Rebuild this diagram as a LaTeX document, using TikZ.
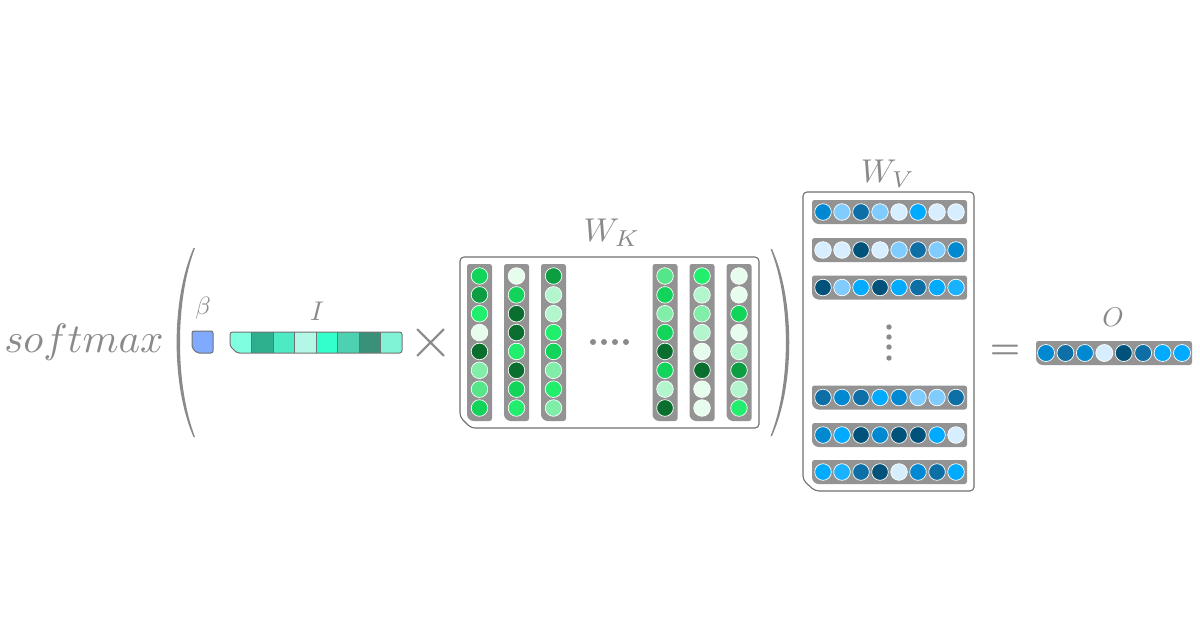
\documentclass[tikz,border=0pt]{standalone}
\usepackage{amsmath}
\usepackage{amssymb}
\usepackage{tikz}

\definecolor{txtgray}{HTML}{8A8A8A}
\definecolor{frmgray}{HTML}{707070}
\definecolor{bargray}{HTML}{939393}
\definecolor{betablue}{HTML}{80AAFF}
\definecolor{iA}{HTML}{80FFE0}
\definecolor{iB}{HTML}{2EB08F}
\definecolor{iC}{HTML}{4DEBC4}
\definecolor{iD}{HTML}{B3F7E6}
\definecolor{iE}{HTML}{33FFCC}
\definecolor{iF}{HTML}{4DD1B0}
\definecolor{iG}{HTML}{3A917A}
\definecolor{iH}{HTML}{80F2D5}
\definecolor{gA}{HTML}{E6FCEC}
\definecolor{gB}{HTML}{B3F5CC}
\definecolor{gC}{HTML}{80EDA8}
\definecolor{gD}{HTML}{55E68A}
\definecolor{gE}{HTML}{22EE6E}
\definecolor{gF}{HTML}{12D45A}
\definecolor{gG}{HTML}{0E9E42}
\definecolor{gH}{HTML}{0A6E2E}
\definecolor{bA}{HTML}{D6EEFF}
\definecolor{bB}{HTML}{80CCFF}
\definecolor{bC}{HTML}{00AAFF}
\definecolor{bCC}{HTML}{1AB2FF}
\definecolor{bD}{HTML}{0088D1}
\definecolor{bE}{HTML}{0D6FA6}
\definecolor{bF}{HTML}{00527A}

\begin{document}
\begin{tikzpicture}[x=1pt,y=1pt,
    lbl/.style={text=txtgray},
    frame/.style={draw=frmgray, line width=1.1pt, fill=white, rounded corners=4pt},
    bar/.style={fill=bargray, rounded corners=2.5pt},
    dot/.style={draw=white, line width=0.7pt}]
    \tikzstyle{every node}+=[inner sep=0pt]
    \useasboundingbox (0,0) rectangle (1200,-630);
    % softmax and left bracket
    \node[lbl, anchor=base, scale=4.1] (softmax) at (84,-352) {$softmax$};
    \fill[txtgray] (193.5,-248) .. controls (171,-300) and (171,-385) .. (193.5,-437) -- (195,-437) .. controls (175,-385) and (175,-300) .. (195,-248) -- cycle;
    % beta
    \filldraw[draw=frmgray, fill=betablue, line width=1pt, rounded corners=2pt] (192,-331) -- (213,-331) -- (213,-353) -- (197,-353) -- (192,-348) -- cycle;
    \node[lbl, scale=2.5] (beta) at (203,-308) {$\beta$};
    % input vector I
    \begin{scope}
        \clip[rounded corners=2.5pt] (230,-332) -- (402,-332) -- (402,-353) -- (237,-353) -- (230,-346) -- cycle;
        \foreach \c [count=\i from 0] in {iA,iB,iC,iD,iE,iF,iG,iH}
            \fill[\c] (230+21.5*\i,-332) rectangle ++(21.5,-21);
    \end{scope}
    \foreach \i in {1,...,7}
        \draw[frmgray, line width=1pt] (230+21.5*\i,-332) -- ++(0,-21);
    \draw[frmgray, line width=1pt, rounded corners=2.5pt] (230,-332) -- (402,-332) -- (402,-353) -- (237,-353) -- (230,-346) -- cycle;
    \node[lbl, scale=2.7] (vecI) at (317,-311) {$I$};
    \node[lbl, scale=5.8] (times) at (431,-343) {$\times$};
    % key matrix W_K
    \draw[frame] (460,-257) -- (759,-257) -- (759,-428) -- (471,-428) -- (460,-417) -- cycle;
    \node[lbl, scale=3.3] (WK) at (612,-233) {$W_K$};
    \foreach \x/\cols in {479.5/{gF,gG,gE,gA,gH,gC,gD,gF}, 516.5/{gA,gF,gH,gH,gE,gH,gF,gE},
                          553.5/{gG,gB,gB,gE,gF,gC,gE,gC}, 665/{gD,gF,gC,gF,gH,gF,gB,gH},
                          702/{gE,gB,gC,gB,gA,gH,gA,gA}, 739/{gA,gA,gF,gA,gB,gG,gB,gE}} {
        \fill[bar] (\x-12.5,-264) -- (\x+12.5,-264) -- (\x+12.5,-421) -- (\x-8.5,-421) -- (\x-12.5,-417) -- cycle;
        \foreach \c [count=\i from 0] in \cols
            \filldraw[dot, fill=\c] (\x,-276-18.86*\i) circle (8.3);
    }
    \foreach \x in {593,604,615,626}
        \fill[txtgray] (\x,-342) circle (3);
    % right bracket
    \fill[txtgray] (772,-249) .. controls (795,-300) and (795,-385) .. (772,-436) -- (770.5,-436) .. controls (791,-385) and (791,-300) .. (770.5,-249) -- cycle;
    % value matrix W_V
    \draw[frame] (803,-192) -- (974,-192) -- (974,-491) -- (815,-491) -- (803,-480) -- cycle;
    \node[lbl, scale=3.3] (WV) at (888,-174) {$W_V$};
    \foreach \y/\cols in {212/{bD,bB,bE,bB,bA,bC,bA,bA}, 250/{bA,bA,bF,bA,bB,bE,bB,bD},
                          287.5/{bF,bB,bC,bF,bC,bE,bC,bCC}, 397.5/{bE,bD,bE,bC,bD,bB,bB,bE},
                          435/{bD,bC,bF,bD,bF,bF,bC,bA}, 472/{bC,bCC,bE,bF,bA,bD,bE,bC}} {
        \fill[bar] (812,-\y+12) -- (967,-\y+12) -- (967,-\y-12) -- (816,-\y-12) -- (812,-\y-8) -- cycle;
        \foreach \c [count=\i from 0] in \cols
            \filldraw[dot, fill=\c] (823+19*\i,-\y) circle (8.3);
    }
    \foreach \y in {327,337,347,358}
        \fill[txtgray] (889,-\y) circle (2.7);
    % result O
    \node[lbl, scale=3.4] (eq) at (1005,-352) {$\boldsymbol{=}$};
    \fill[bar] (1036,-341) -- (1192,-341) -- (1192,-365) -- (1040,-365) -- (1036,-361) -- cycle;
    \foreach \c [count=\i from 0] in {bD,bE,bD,bA,bF,bE,bC,bC}
        \filldraw[dot, fill=\c] (1046+19.43*\i,-353) circle (8.5);
    \node[lbl, scale=2.7] (vecO) at (1113,-317) {$O$};
\end{tikzpicture}
\end{document}
